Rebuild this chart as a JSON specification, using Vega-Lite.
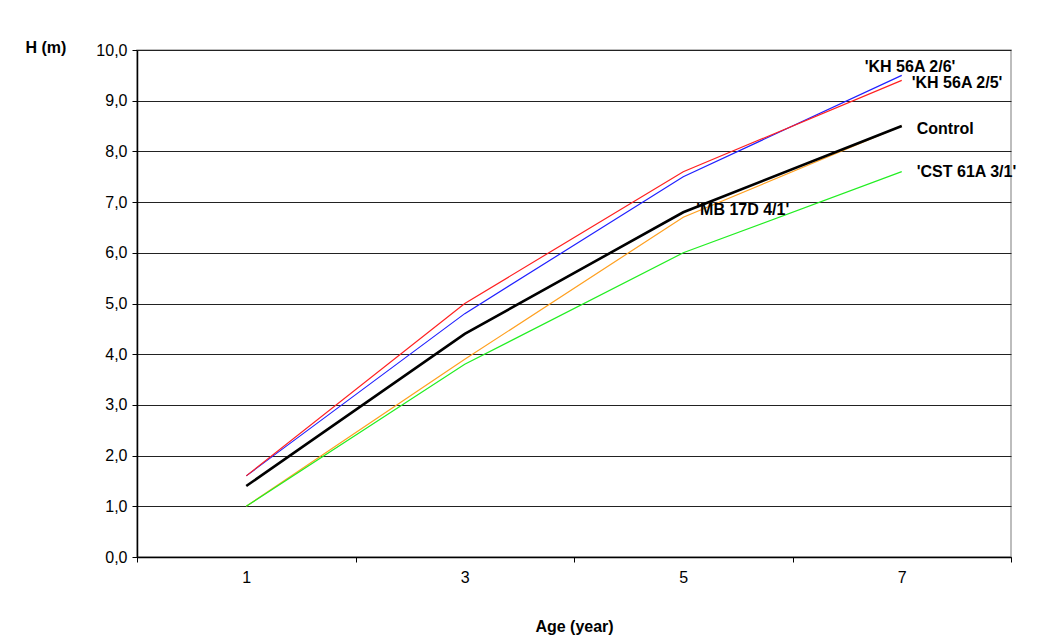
{
  "$schema": "https://vega.github.io/schema/vega-lite/v6.json",
  "width": 874,
  "height": 507,
  "autosize": {"type": "none"},
  "padding": {"left": 137, "top": 50, "right": 34, "bottom": 85},
  "background": "white",
  "config": {
    "font": "Liberation Sans",
    "view": {"stroke": "#a8a8a8", "strokeWidth": 1.5},
    "axis": {"labelFont": "Liberation Sans", "titleFont": "Liberation Sans", "labelColor": "black", "titleColor": "black"}
  },
  "data": {
    "values": [
      {"series": "'KH 56A 2/6'", "age": "1", "h": 1.6},
      {"series": "'KH 56A 2/6'", "age": "3", "h": 4.8},
      {"series": "'KH 56A 2/6'", "age": "5", "h": 7.5},
      {"series": "'KH 56A 2/6'", "age": "7", "h": 9.5},
      {"series": "'KH 56A 2/5'", "age": "1", "h": 1.6},
      {"series": "'KH 56A 2/5'", "age": "3", "h": 5.0},
      {"series": "'KH 56A 2/5'", "age": "5", "h": 7.6},
      {"series": "'KH 56A 2/5'", "age": "7", "h": 9.4},
      {"series": "Control", "age": "1", "h": 1.4},
      {"series": "Control", "age": "3", "h": 4.4},
      {"series": "Control", "age": "5", "h": 6.8},
      {"series": "Control", "age": "7", "h": 8.5},
      {"series": "'MB 17D 4/1'", "age": "1", "h": 1.0},
      {"series": "'MB 17D 4/1'", "age": "3", "h": 3.9},
      {"series": "'MB 17D 4/1'", "age": "5", "h": 6.7},
      {"series": "'MB 17D 4/1'", "age": "7", "h": 8.5},
      {"series": "'CST 61A 3/1'", "age": "1", "h": 1.0},
      {"series": "'CST 61A 3/1'", "age": "3", "h": 3.8},
      {"series": "'CST 61A 3/1'", "age": "5", "h": 6.0},
      {"series": "'CST 61A 3/1'", "age": "7", "h": 7.6}
    ]
  },
  "encoding": {
    "x": {
      "field": "age", "type": "ordinal", "sort": ["1", "3", "5", "7"],
      "scale": {"type": "band", "paddingInner": 0, "paddingOuter": 0},
      "axis": {
        "title": "Age (year)", "titleFontSize": 16, "titleFontWeight": "bold", "titlePadding": 33,
        "labelAngle": 0, "labelFontSize": 16, "labelPadding": 7,
        "tickBand": "extent", "tickSize": 5, "tickColor": "black", "domainColor": "black", "domainWidth": 1.5,
        "grid": false
      }
    },
    "y": {
      "field": "h", "type": "quantitative",
      "scale": {"domain": [0, 10], "nice": false, "zero": true},
      "axis": {
        "values": [0, 1, 2, 3, 4, 5, 6, 7, 8, 9, 10],
        "labelExpr": "replace(format(datum.value, '.1f'), '.', ',')",
        "labelFontSize": 16, "labelPadding": 5,
        "tickSize": 5, "tickColor": "black", "domainColor": "black", "domainWidth": 1.5,
        "grid": true, "gridColor": "#222222", "gridWidth": 1,
        "title": "H (m)", "titleAngle": 0, "titleAlign": "left", "titleBaseline": "middle",
        "titleX": -112, "titleY": -3, "titleFontSize": 16, "titleFontWeight": "bold"
      }
    }
  },
  "layer": [
    {
      "transform": [{"filter": "datum.series !== 'Control'"}],
      "mark": {"type": "line", "strokeWidth": 1.2},
      "encoding": {
        "color": {
          "field": "series", "type": "nominal", "legend": null,
          "scale": {
            "domain": ["'CST 61A 3/1'", "'MB 17D 4/1'", "'KH 56A 2/6'", "'KH 56A 2/5'"],
            "range": ["#22ee22", "#ffa020", "#2020ff", "#ff2020"]
          }
        }
      }
    },
    {
      "transform": [{"filter": "datum.series === 'Control'"}],
      "mark": {"type": "line", "strokeWidth": 2.6, "color": "black"},
      "encoding": {}
    },
    {
      "transform": [{"filter": "datum.series === \"'KH 56A 2/6'\" && datum.age === '7'"}],
      "mark": {"type": "text", "align": "left", "baseline": "middle", "dx": -37, "dy": -8, "fontSize": 16, "fontWeight": "bold", "color": "black"},
      "encoding": {"text": {"field": "series"}}
    },
    {
      "transform": [{"filter": "datum.series === \"'KH 56A 2/5'\" && datum.age === '7'"}],
      "mark": {"type": "text", "align": "left", "baseline": "middle", "dx": 10, "dy": 3, "fontSize": 16, "fontWeight": "bold", "color": "black"},
      "encoding": {"text": {"field": "series"}}
    },
    {
      "transform": [{"filter": "datum.series === 'Control' && datum.age === '7'"}],
      "mark": {"type": "text", "align": "left", "baseline": "middle", "dx": 15, "dy": 3, "fontSize": 16, "fontWeight": "bold", "color": "black"},
      "encoding": {"text": {"field": "series"}}
    },
    {
      "transform": [{"filter": "datum.series === \"'CST 61A 3/1'\" && datum.age === '7'"}],
      "mark": {"type": "text", "align": "left", "baseline": "middle", "dx": 15, "dy": 0, "fontSize": 16, "fontWeight": "bold", "color": "black"},
      "encoding": {"text": {"field": "series"}}
    },
    {
      "transform": [{"filter": "datum.series === \"'MB 17D 4/1'\" && datum.age === '5'"}],
      "mark": {"type": "text", "align": "left", "baseline": "middle", "dx": 13, "dy": -7, "fontSize": 16, "fontWeight": "bold", "color": "black"},
      "encoding": {"text": {"field": "series"}}
    }
  ]
}
